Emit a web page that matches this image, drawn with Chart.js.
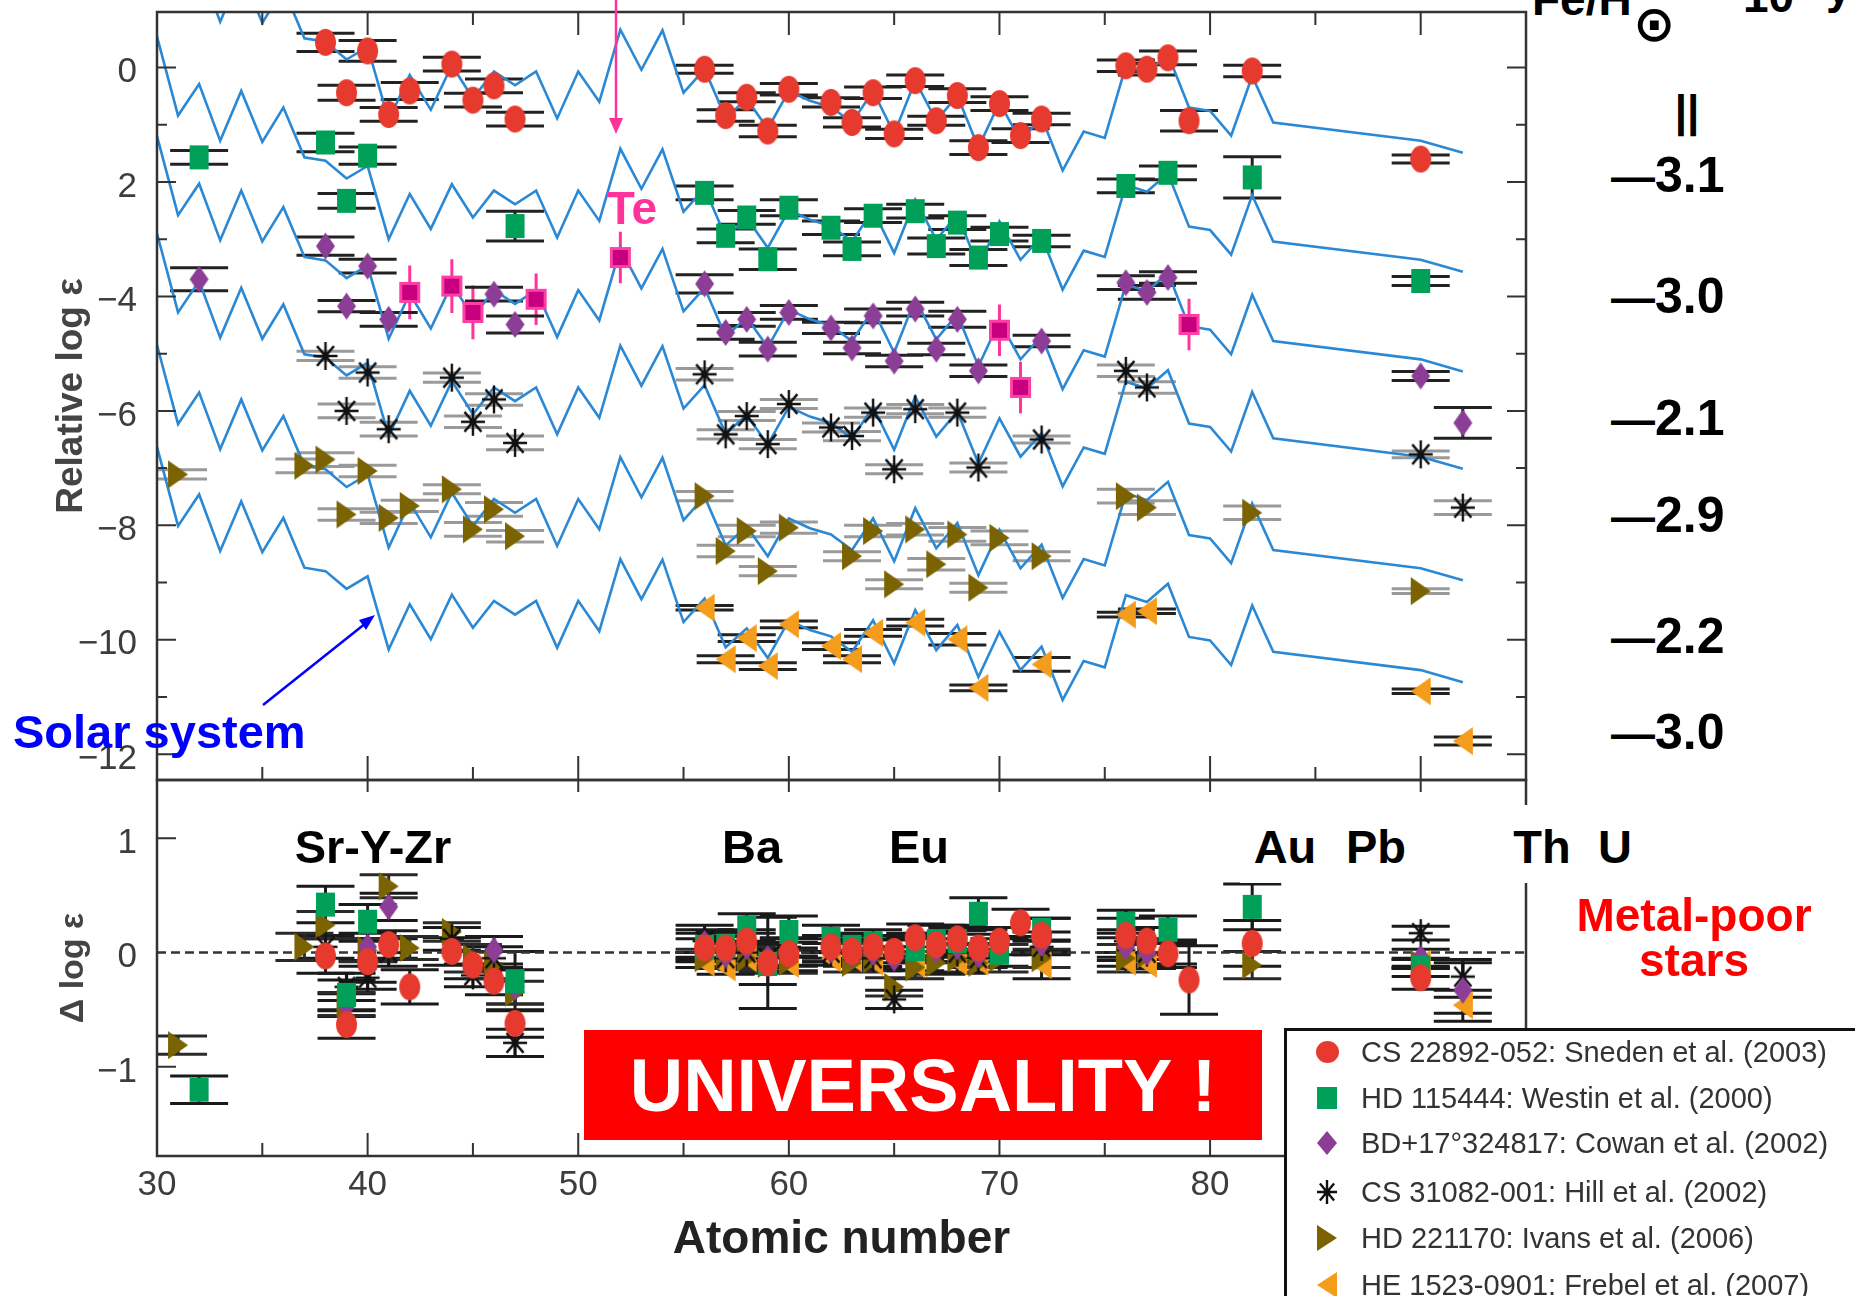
<!DOCTYPE html>
<html>
<head>
<meta charset="utf-8">
<title>r-process universality</title>
<script src="https://cdn.jsdelivr.net/npm/chart.js@4.4.1/dist/chart.umd.min.js"></script>
<style>
  html, body { margin: 0; padding: 0; background: #fff; }
  #page { position: relative; width: 1855px; height: 1296px; overflow: hidden; background: #fff;
          font-family: "Liberation Sans", Arial, sans-serif; }
  #page canvas { position: absolute; left: 0; }
  .lbl { position: absolute; font-weight: bold; line-height: 1; white-space: nowrap; }
  .c { transform: translate(-50%, -50%); }
  .m { transform: translateY(-50%); }
  .elem { font-size: 47px; color: #000; }
  .feh { font-size: 50px; color: #000; left: 1611px; }
  .feh span { font-size: 44px; }
  #legend { position: absolute; left: 1284px; top: 1028px; width: 700px; height: 400px;
            border: 3px solid #111; background: #fff; }
  #legend .row { position: absolute; left: 74px; font-size: 29px; color: #333; line-height: 1;
                 transform: translateY(-50%); white-space: nowrap; }
  #legend canvas { position: absolute; }
</style>
</head>
<body>
<div id="page">
  <canvas id="topChart" width="1855" height="800" style="top:0;z-index:1"></canvas>
  <canvas id="bottomChart" width="1855" height="536" style="top:760px;z-index:2"></canvas>

  <div style="position:absolute;left:1240px;top:805px;width:410px;height:78px;background:#fff;z-index:3"></div>
  <div class="lbl elem c" style="left:373px;top:846px;z-index:4">Sr-Y-Zr</div>
  <div class="lbl elem c" style="left:752px;top:846px;z-index:4">Ba</div>
  <div class="lbl elem c" style="left:919px;top:846px;z-index:4">Eu</div>
  <div class="lbl elem c" style="left:1285px;top:846px;z-index:4">Au</div>
  <div class="lbl elem c" style="left:1376px;top:846px;z-index:4">Pb</div>
  <div class="lbl elem c" style="left:1542px;top:846px;z-index:4">Th</div>
  <div class="lbl elem c" style="left:1615px;top:846px;z-index:4">U</div>

  <div class="lbl c" style="left:1694px;top:915px;font-size:46px;color:#ff0000;z-index:4">Metal-poor</div>
  <div class="lbl c" style="left:1694px;top:960px;font-size:46px;color:#ff0000;z-index:4">stars</div>

  <div style="position:absolute;left:584px;top:1030px;width:678px;height:110px;background:#ff0000;z-index:4"></div>
  <div class="lbl c" style="left:923px;top:1086px;font-size:74px;color:#fff;z-index:5">UNIVERSALITY !</div>

  <div class="lbl c" style="left:632px;top:208px;font-size:46px;color:#ff3399;z-index:4">Te</div>
  <div class="lbl m" style="left:13px;top:731px;font-size:47px;color:#0000ff;z-index:4">Solar system</div>

  <div class="lbl" style="left:1532px;top:-24px;font-size:46px;color:#000">Fe/H</div>
  <div class="lbl c" style="left:1654px;top:24px;font-size:50px;color:#000;font-family:'DejaVu Sans',sans-serif">⊙</div>
  <div class="lbl" style="left:1743px;top:-27px;font-size:46px;color:#000">10</div>
  <div class="lbl" style="left:1826px;top:-36px;font-size:46px;color:#000">y</div>
  <div class="lbl c" style="left:1687px;top:111px;font-size:44px;color:#000">||</div>

  <div class="lbl feh m" style="top:175px"><span>—</span>3.1</div>
  <div class="lbl feh m" style="top:296px"><span>—</span>3.0</div>
  <div class="lbl feh m" style="top:418px"><span>—</span>2.1</div>
  <div class="lbl feh m" style="top:515px"><span>—</span>2.9</div>
  <div class="lbl feh m" style="top:636px"><span>—</span>2.2</div>
  <div class="lbl feh m" style="top:732px"><span>—</span>3.0</div>

  <svg width="1855" height="1296" style="position:absolute;left:0;top:0;z-index:6;pointer-events:none">
    <line x1="616" y1="0" x2="616" y2="122" stroke="#ff3399" stroke-width="2.5"/>
    <polygon points="609,118 623,118 616,134" fill="#ff3399"/>
    <line x1="263" y1="705" x2="366" y2="623" stroke="#0000ff" stroke-width="2.5"/>
    <polygon points="375,615 366,630 359,620" fill="#0000ff"/>
  </svg>

  <div id="legend" style="z-index:7"></div>
</div>

<script>
// solar-system r-process pattern (scaled to CS 22892-052, the top curve)
const solarZ = [30,31,32,33,34,35,36,37,38,39,40,41,42,43,44,45,46,47,48,49,
                50,51,52,53,54,55,56,57,58,59,60,61,62,63,64,65,66,67,68,69,
                70,71,72,73,74,75,76,77,78,79,80,81,82,83,90,92];
const solarLogEps = [2.62, 1.24, 1.79, 0.80, 1.67, 0.78, 1.38, 0.51, 0.45, 0.14,
                     0.36, -0.92, -0.13, -0.74, 0.04, -0.54, -0.07, -0.31, -0.07, -0.89,
                     -0.07, -0.60, 0.66, -0.04, 0.65, -0.44, -0.03, -0.88, -0.55, -1.07,
                     -0.41, -0.58, -0.69, -0.96, -0.41, -1.16, -0.23, -0.93, -0.49, -1.40,
                     -0.61, -1.28, -0.87, -1.80, -1.12, -1.23, 0.03, -0.09, 0.23, -0.70,
                     -0.76, -1.19, -0.15, -0.96, -1.28, -1.49];
// vertical shift of the solar curve for each star
const solarOffsets = [0, -2.08, -3.82, -5.52, -7.47, -9.25];

// star abundances: [Z, relative log eps, error]
const sneden = [[38,0.44,0.16],[39,-0.44,0.13],[40,0.29,0.18],[41,-0.82,0.12],[42,-0.41,0.15],[44,0.06,0.12],
  [45,-0.57,0.12],[46,-0.32,0.12],[47,-0.90,0.12],[56,-0.03,0.07],[57,-0.84,0.10],[58,-0.52,0.08],[59,-1.11,0.10],
  [60,-0.38,0.10],[62,-0.61,0.08],[63,-0.96,0.08],[64,-0.44,0.10],[65,-1.16,0.08],[66,-0.23,0.10],[67,-0.93,0.08],
  [68,-0.49,0.12],[69,-1.40,0.12],[70,-0.63,0.12],[71,-1.19,0.12],[72,-0.90,0.10],[76,0.03,0.10],[77,-0.03,0.10],
  [78,0.17,0.12],[79,-0.93,0.18],[82,-0.06,0.10],[90,-1.60,0.07]];
const westin = [[32,-1.57,0.12],[38,-1.31,0.16],[39,-2.33,0.13],[40,-1.54,0.15],[47,-2.77,0.26],[56,-2.19,0.12],
  [57,-2.94,0.12],[58,-2.62,0.12],[59,-3.35,0.18],[60,-2.45,0.14],[62,-2.80,0.12],[63,-3.17,0.12],[64,-2.59,0.12],
  [66,-2.51,0.12],[67,-3.12,0.14],[68,-2.71,0.12],[69,-3.32,0.14],[70,-2.91,0.12],[72,-3.03,0.10],[76,-2.07,0.12],
  [78,-1.84,0.12],[82,-1.92,0.36],[90,-3.73,0.08]];
const cowan = [[32,-3.70,0.20],[38,-3.12,0.16],[39,-4.17,0.10],[40,-3.47,0.12],[41,-4.40,0.12],[46,-3.96,0.12],
  [47,-4.49,0.15],[56,-3.78,0.16],[57,-4.63,0.12],[58,-4.40,0.12],[59,-4.92,0.12],[60,-4.28,0.12],[62,-4.55,0.10],
  [63,-4.90,0.10],[64,-4.34,0.12],[65,-5.13,0.10],[66,-4.22,0.12],[67,-4.92,0.10],[68,-4.40,0.14],[69,-5.30,0.10],
  [72,-4.78,0.10],[76,-3.76,0.12],[77,-3.93,0.12],[78,-3.67,0.10],[90,-5.39,0.08],[92,-6.21,0.27]];
const hill = [[38,-5.04,0.08],[39,-6.00,0.12],[40,-5.33,0.10],[41,-6.32,0.12],[44,-5.42,0.08],[45,-6.19,0.10],
  [46,-5.80,0.10],[47,-6.56,0.12],[56,-5.36,0.10],[57,-6.41,0.08],[58,-6.09,0.08],[59,-6.58,0.08],[60,-5.88,0.08],
  [62,-6.29,0.08],[63,-6.44,0.08],[64,-6.03,0.08],[65,-7.02,0.08],[66,-5.97,0.08],[68,-6.03,0.08],[69,-6.99,0.08],
  [72,-6.50,0.06],[76,-5.30,0.10],[77,-5.59,0.10],[90,-6.76,0.06],[92,-7.69,0.12]];
const ivans = [[31,-7.11,0.08],[37,-6.96,0.12],[38,-6.85,0.12],[39,-7.81,0.10],[40,-7.05,0.10],[41,-7.87,0.10],
  [42,-7.66,0.10],[44,-7.37,0.08],[45,-8.07,0.12],[46,-7.72,0.12],[47,-8.19,0.10],[56,-7.49,0.08],[57,-8.45,0.10],
  [58,-8.10,0.10],[59,-8.80,0.08],[60,-8.04,0.10],[63,-8.54,0.08],[64,-8.10,0.10],[65,-9.03,0.08],[66,-8.07,0.10],
  [67,-8.68,0.10],[68,-8.16,0.12],[69,-9.09,0.08],[70,-8.22,0.12],[72,-8.54,0.08],[76,-7.49,0.12],[77,-7.69,0.12],
  [82,-7.78,0.12],[90,-9.15,0.04]];
const frebel = [[56,-9.44,0.04],[57,-10.34,0.06],[58,-9.97,0.06],[59,-10.46,0.06],[60,-9.73,0.06],[62,-10.11,0.06],
  [63,-10.34,0.06],[64,-9.88,0.06],[66,-9.70,0.06],[68,-9.99,0.10],[69,-10.84,0.05],[72,-10.43,0.12],
  [76,-9.56,0.04],[77,-9.50,0.04],[90,-10.90,0.04],[92,-11.77,0.07]];
// BD+17 3248 UV lines, Te and neighbours
const roederer = [[42,-3.93,0.47],[44,-3.82,0.47],[45,-4.28,0.47],[48,-4.05,0.45],[52,-3.32,0.45],
  [70,-4.59,0.45],[71,-5.59,0.45],[79,-4.49,0.45]];

// residuals against the scaled solar curve: [Z, delta log eps, error]
const snedenRes = [[38,-0.03,0.15],[39,-0.63,0.12],[40,-0.08,0.18],[41,0.07,0.12],[42,-0.30,0.15],[44,0.01,0.12],
  [45,-0.11,0.12],[46,-0.25,0.12],[47,-0.62,0.12],[56,0.04,0.08],[57,0.04,0.10],[58,0.10,0.10],[59,-0.09,0.40],
  [60,-0.01,0.10],[62,0.05,0.10],[63,0.01,0.10],[64,0.05,0.10],[65,0.01,0.10],[66,0.13,0.12],[67,0.07,0.10],
  [68,0.12,0.12],[69,0.04,0.12],[70,0.10,0.12],[71,0.26,0.12],[72,0.15,0.15],[76,0.15,0.15],[77,0.10,0.12],
  [78,-0.01,0.12],[79,-0.24,0.30],[82,0.08,0.20],[90,-0.22,0.10]];
const westinRes = [[32,-1.20,0.12],[38,0.42,0.16],[39,-0.37,0.13],[40,0.27,0.15],[47,-0.25,0.26],[56,0.05,0.12],
  [57,0.06,0.12],[58,0.22,0.12],[59,-0.10,0.18],[60,0.18,0.14],[62,0.12,0.12],[63,0.05,0.12],[64,0.08,0.12],
  [66,0.03,0.12],[67,0.10,0.14],[68,0.10,0.12],[69,0.34,0.14],[70,0.00,0.12],[72,0.20,0.10],[76,0.25,0.12],
  [78,0.20,0.12],[82,0.40,0.20],[90,-0.13,0.08]];
const cowanRes = [[39,-0.46,0.10],[40,0.05,0.12],[41,0.40,0.12],[46,0.02,0.12],[47,-0.30,0.15],[56,0.08,0.16],
  [57,-0.02,0.12],[58,0.05,0.12],[59,-0.05,0.12],[60,0.00,0.12],[62,0.02,0.10],[63,-0.02,0.10],[64,0.00,0.12],
  [65,-0.05,0.10],[66,0.05,0.12],[67,0.02,0.10],[68,0.05,0.14],[69,-0.02,0.10],[72,0.08,0.10],[76,0.05,0.12],
  [77,0.00,0.12],[78,0.00,0.10],[90,-0.05,0.08],[92,-0.33,0.27]];
const hillRes = [[38,0.05,0.10],[39,-0.30,0.12],[40,-0.22,0.10],[41,0.00,0.12],[44,0.12,0.10],[45,-0.20,0.10],
  [46,-0.05,0.10],[47,-0.79,0.12],[56,0.10,0.10],[57,-0.05,0.08],[58,0.00,0.08],[59,-0.05,0.08],[60,0.05,0.08],
  [62,0.00,0.08],[63,0.02,0.08],[64,-0.05,0.08],[65,-0.41,0.08],[66,0.05,0.08],[68,0.00,0.08],[69,-0.05,0.08],
  [72,0.05,0.06],[76,0.10,0.10],[77,0.00,0.10],[90,0.17,0.06],[92,-0.21,0.12]];
const ivansRes = [[31,-0.81,0.08],[37,0.05,0.12],[38,0.24,0.12],[39,-0.45,0.10],[40,0.02,0.10],[41,0.58,0.10],
  [42,0.04,0.10],[44,0.18,0.08],[45,-0.05,0.12],[46,-0.11,0.12],[47,-0.35,0.10],[56,-0.05,0.08],[57,-0.02,0.10],
  [58,-0.05,0.10],[59,-0.10,0.08],[60,-0.08,0.10],[63,-0.09,0.08],[64,-0.06,0.10],[65,-0.30,0.08],[66,-0.13,0.10],
  [67,-0.09,0.10],[68,-0.05,0.12],[69,-0.09,0.08],[70,-0.05,0.12],[72,-0.05,0.08],[76,-0.05,0.12],[77,-0.02,0.12],
  [82,-0.11,0.12],[90,-0.10,0.04]];
const frebelRes = [[56,-0.09,0.04],[57,-0.13,0.06],[58,-0.05,0.06],[60,-0.10,0.06],[62,-0.05,0.06],[63,-0.05,0.06],
  [64,-0.08,0.06],[66,-0.10,0.06],[68,-0.08,0.10],[69,-0.08,0.05],[72,-0.11,0.12],[76,-0.08,0.04],[77,-0.10,0.04],
  [90,-0.10,0.04],[92,-0.46,0.07]];

const starNames = ['CS 22892-052: Sneden et al. (2003)', 'HD 115444: Westin et al. (2000)',
  'BD+17°324817: Cowan et al. (2002)', 'CS 31082-001: Hill et al. (2002)',
  'HD 221170: Ivans et al. (2006)', 'HE 1523-0901: Frebel et al. (2007)'];

// axis ticks
const xTickLabels = [30, 40, 50, 60, 70, 80, 90];
const topYTicks = [0, -2, -4, -6, -8, -10, -12];
const topYTickText = ['0', '2', '−4', '−6', '−8', '−10', '−12'];
const botYTicks = [1, 0, -1];
const botYTickText = ['1', '0', '−1'];

const tickFont = { family: '"Liberation Sans Narrow", "Arial Narrow", "Liberation Sans", Arial, sans-serif', size: 35 };
const tickColor = '#3d3d3d';

function makeMarker(shape, color, w, h) {
  const c = document.createElement('canvas');
  c.width = w + 4; c.height = h + 4;
  const g = c.getContext('2d');
  const cx = c.width / 2, cy = c.height / 2;
  g.fillStyle = color; g.strokeStyle = color;
  g.beginPath();
  if (shape === 'ellipse') {
    g.ellipse(cx, cy, w / 2, h / 2, 0, 0, Math.PI * 2); g.fill();
  } else if (shape === 'rect') {
    g.fillRect(cx - w / 2, cy - h / 2, w, h);
  } else if (shape === 'diamond') {
    g.moveTo(cx, cy - h / 2); g.lineTo(cx + w / 2, cy); g.lineTo(cx, cy + h / 2); g.lineTo(cx - w / 2, cy);
    g.closePath(); g.fill();
  } else if (shape === 'triR') {
    g.moveTo(cx - w / 2, cy - h / 2); g.lineTo(cx + w / 2, cy); g.lineTo(cx - w / 2, cy + h / 2);
    g.closePath(); g.fill();
  } else if (shape === 'triL') {
    g.moveTo(cx + w / 2, cy - h / 2); g.lineTo(cx - w / 2, cy); g.lineTo(cx + w / 2, cy + h / 2);
    g.closePath(); g.fill();
  } else if (shape === 'asterisk') {
    g.lineWidth = 2.4;
    for (let k = 0; k < 4; k++) {
      const a = k * Math.PI / 4;
      g.moveTo(cx + Math.cos(a) * w / 2, cy + Math.sin(a) * h / 2);
      g.lineTo(cx - Math.cos(a) * w / 2, cy - Math.sin(a) * h / 2);
    }
    g.stroke();
    g.beginPath(); g.arc(cx, cy, 3.5, 0, Math.PI * 2); g.fill();
  } else if (shape === 'pink') {
    g.fillStyle = '#c8007f'; g.fillRect(cx - w / 2, cy - h / 2, w, h);
    g.lineWidth = 3; g.strokeStyle = '#ff3fa4'; g.strokeRect(cx - w / 2 + 1.5, cy - h / 2 + 1.5, w - 3, h - 3);
  }
  return c;
}

const red = '#e63a2e', green = '#00a058', purple = '#8c3e97', olive = '#7a6300', orange = '#f49c1c';
const markers = [
  makeMarker('ellipse', red, 21, 27),
  makeMarker('rect', green, 19, 24),
  makeMarker('diamond', purple, 19, 27),
  makeMarker('asterisk', '#111', 24, 28),
  makeMarker('triR', olive, 20, 28),
  makeMarker('triL', orange, 20, 28)
];
const pinkMarker = makeMarker('pink', '#c8007f', 21, 21);

const toPts = arr => arr.map(p => ({ x: p[0], y: p[1], e: p[2] }));

// error bars: vertical line with wide caps, drawn under the markers
const errorBars = {
  id: 'errorBars',
  beforeDatasetsDraw(chart) {
    const { ctx, chartArea: a, scales: { x, y } } = chart;
    ctx.save();
    ctx.beginPath(); ctx.rect(a.left, a.top, a.width, a.height); ctx.clip();
    chart.data.datasets.forEach(ds => {
      if (!ds.errColor) return;
      ctx.strokeStyle = ds.errColor;
      ctx.lineWidth = ds.errWidth;
      ctx.beginPath();
      ds.data.forEach(p => {
        if (!p.e) return;
        const px = x.getPixelForValue(p.x);
        const y1 = y.getPixelForValue(p.y + p.e), y2 = y.getPixelForValue(p.y - p.e);
        ctx.moveTo(px, y1); ctx.lineTo(px, y2);
        if (ds.capHalf) {
          ctx.moveTo(px - ds.capHalf, y1); ctx.lineTo(px + ds.capHalf, y1);
          ctx.moveTo(px - ds.capHalf, y2); ctx.lineTo(px + ds.capHalf, y2);
        }
      });
      ctx.stroke();
    });
    ctx.restore();
  }
};

// box, inward ticks and zero line
const frame = {
  id: 'frame',
  beforeDatasetsDraw(chart, args, opts) {
    if (!opts.zeroLine) return;
    const { ctx, chartArea: a, scales: { y } } = chart;
    const py = y.getPixelForValue(0);
    ctx.save();
    ctx.strokeStyle = '#333'; ctx.lineWidth = 2.5; ctx.setLineDash([9, 5]);
    ctx.beginPath(); ctx.moveTo(a.left, py); ctx.lineTo(a.right, py); ctx.stroke();
    ctx.restore();
  },
  afterDatasetsDraw(chart, args, opts) {
    const { ctx, chartArea: a, scales: { x, y } } = chart;
    ctx.save();
    ctx.strokeStyle = '#333';
    ctx.lineWidth = 2.5;
    ctx.strokeRect(a.left, a.top, a.width, a.height);
    ctx.lineWidth = 2;
    ctx.beginPath();
    x.ticks.forEach(t => {
      const px = x.getPixelForValue(t.value);
      if (px <= a.left + 1 || px >= a.right - 1) return;
      const major = Math.abs(t.value % 10) < 1e-6;
      const lt = major ? opts.xTop[0] : opts.xTop[1];
      const lb = major ? opts.xBottom[0] : opts.xBottom[1];
      if (lt) { ctx.moveTo(px, a.top); ctx.lineTo(px, a.top + lt); }
      if (lb) { ctx.moveTo(px, a.bottom); ctx.lineTo(px, a.bottom - lb); }
    });
    y.ticks.forEach(t => {
      if (Math.abs(t.value - Math.round(t.value)) > 1e-6) return;
      const v = Math.round(t.value);
      if (v === 0 && opts.zeroLine) return;
      const py = y.getPixelForValue(v);
      const len = (v % opts.yMajorEvery === 0) ? opts.yLen[0] : opts.yLen[1];
      ctx.moveTo(a.left, py); ctx.lineTo(a.left + len, py);
      if (opts.yRight) { ctx.moveTo(a.right, py); ctx.lineTo(a.right - len, py); }
    });
    ctx.stroke();
    ctx.restore();
  }
};

function labelFrom(values, texts) {
  return v => {
    const i = values.findIndex(t => Math.abs(t - v) < 1e-6);
    return i < 0 ? '' : texts[i];
  };
}

// keep one tick per whole unit inside the axis range
function wholeTicks(s) {
  const out = [];
  for (let v = Math.ceil(s.min); v <= Math.floor(s.max); v++) out.push({ value: v });
  s.ticks = out;
}

function starSets(lists, errColors, withPink) {
  const sets = [];
  if (withPink) {
    sets.push({ data: toPts(roederer), pointStyle: pinkMarker, pointRadius: 11, order: 0,
      errColor: '#ff3399', errWidth: 3, capHalf: 0 });
  }
  lists.forEach((list, k) => {
    sets.push({ data: toPts(list), pointStyle: markers[k], pointRadius: 12, order: 1 + k,
      errColor: errColors[k], errWidth: 3, capHalf: 29 });
  });
  return sets;
}

const solarLines = solarOffsets.map(off => ({
  data: solarZ.map((z, i) => ({ x: z, y: solarLogEps[i] + off })),
  showLine: true, pointRadius: 0, borderColor: '#2a88d4', borderWidth: 2.6, tension: 0, order: 20
}));

const common = {
  animation: false, responsive: false, events: [],
  plugins: { legend: { display: false }, tooltip: { enabled: false } }
};

new Chart(document.getElementById('topChart'), {
  type: 'scatter',
  data: {
    datasets: starSets([sneden, westin, cowan, hill, ivans, frebel],
      ['#222', '#222', '#222', '#9a9a9a', '#9a9a9a', '#222'], true).concat(solarLines)
  },
  options: Object.assign({}, common, {
    layout: { autoPadding: false, padding: { top: 12, right: 329, bottom: 0, left: 0 } },
    plugins: Object.assign({}, common.plugins, {
      frame: { xTop: [23, 13], xBottom: [24, 13], yLen: [19, 10], yMajorEvery: 2, yRight: true }
    }),
    scales: {
      x: {
        type: 'linear', min: 30, max: 95,
        ticks: { display: false, stepSize: 5 },
        grid: { display: false }, border: { display: false },
        afterFit(s) { s.height = 20; s.paddingLeft = 0; s.paddingRight = 0; }
      },
      y: {
        min: -12.45, max: 0.97,
        afterBuildTicks: wholeTicks,
        ticks: { autoSkip: false, padding: 12, labelOffset: 5, font: tickFont, color: tickColor,
                 callback: labelFrom(topYTicks, topYTickText) },
        grid: { display: false }, border: { display: false },
        title: { display: true, text: 'Relative log ε', color: '#444',
                 font: { family: '"Liberation Sans", Arial, sans-serif', size: 37, weight: 'bold' },
                 padding: { top: 50, bottom: 0 } },
        afterFit(s) { s.width = 157; s.paddingTop = 0; s.paddingBottom = 0; }
      }
    }
  }),
  plugins: [errorBars, frame]
});

new Chart(document.getElementById('bottomChart'), {
  type: 'scatter',
  data: {
    datasets: starSets([snedenRes, westinRes, cowanRes, hillRes, ivansRes, frebelRes],
      ['#1a1a1a', '#1a1a1a', '#1a1a1a', '#1a1a1a', '#2a2a2a', '#1a1a1a'], false)
  },
  options: Object.assign({}, common, {
    layout: { autoPadding: false, padding: { top: 20, right: 329, bottom: 0, left: 0 } },
    plugins: Object.assign({}, common.plugins, {
      frame: { xTop: [12, 0], xBottom: [23, 13], yLen: [19, 19], yMajorEvery: 1, yRight: false, zeroLine: true }
    }),
    scales: {
      x: {
        type: 'linear', min: 30, max: 95,
        ticks: { stepSize: 5, autoSkip: false, maxRotation: 0, padding: 0, font: tickFont, color: tickColor,
                 callback: labelFrom(xTickLabels, xTickLabels.map(String)) },
        grid: { display: false }, border: { display: false },
        title: { display: true, text: 'Atomic number', color: '#222',
                 font: { family: '"Liberation Sans", Arial, sans-serif', size: 46, weight: 'bold' },
                 padding: { top: 0, bottom: 28 } },
        afterFit(s) { s.height = 140; s.paddingLeft = 0; s.paddingRight = 0; }
      },
      y: {
        min: -1.78, max: 1.51,
        afterBuildTicks: wholeTicks,
        ticks: { autoSkip: false, padding: 12, labelOffset: 5, font: tickFont, color: tickColor,
                 callback: labelFrom(botYTicks, botYTickText) },
        grid: { display: false }, border: { display: false },
        title: { display: true, text: 'Δ log ε', color: '#444',
                 font: { family: '"Liberation Sans", Arial, sans-serif', size: 34, weight: 'bold' },
                 padding: { top: 53, bottom: 0 } },
        afterFit(s) { s.width = 157; s.paddingTop = 0; s.paddingBottom = 0; }
      }
    }
  }),
  plugins: [errorBars, frame]
});

// legend box
const legend = document.getElementById('legend');
const rowY = [21, 67, 112, 161, 207, 254];
const legendMarkers = [
  makeMarker('ellipse', red, 23, 22),
  makeMarker('rect', green, 20, 22),
  makeMarker('diamond', purple, 20, 24),
  makeMarker('asterisk', '#111', 20, 24),
  makeMarker('triR', olive, 20, 26),
  makeMarker('triL', orange, 20, 26)
];
starNames.forEach((name, k) => {
  const mk = legendMarkers[k];
  mk.style.left = (40 - mk.width / 2) + 'px';
  mk.style.top = (rowY[k] - mk.height / 2) + 'px';
  legend.appendChild(mk);
  const row = document.createElement('div');
  row.className = 'row';
  row.style.top = rowY[k] + 'px';
  row.textContent = name;
  legend.appendChild(row);
});
</script>
</body>
</html>
